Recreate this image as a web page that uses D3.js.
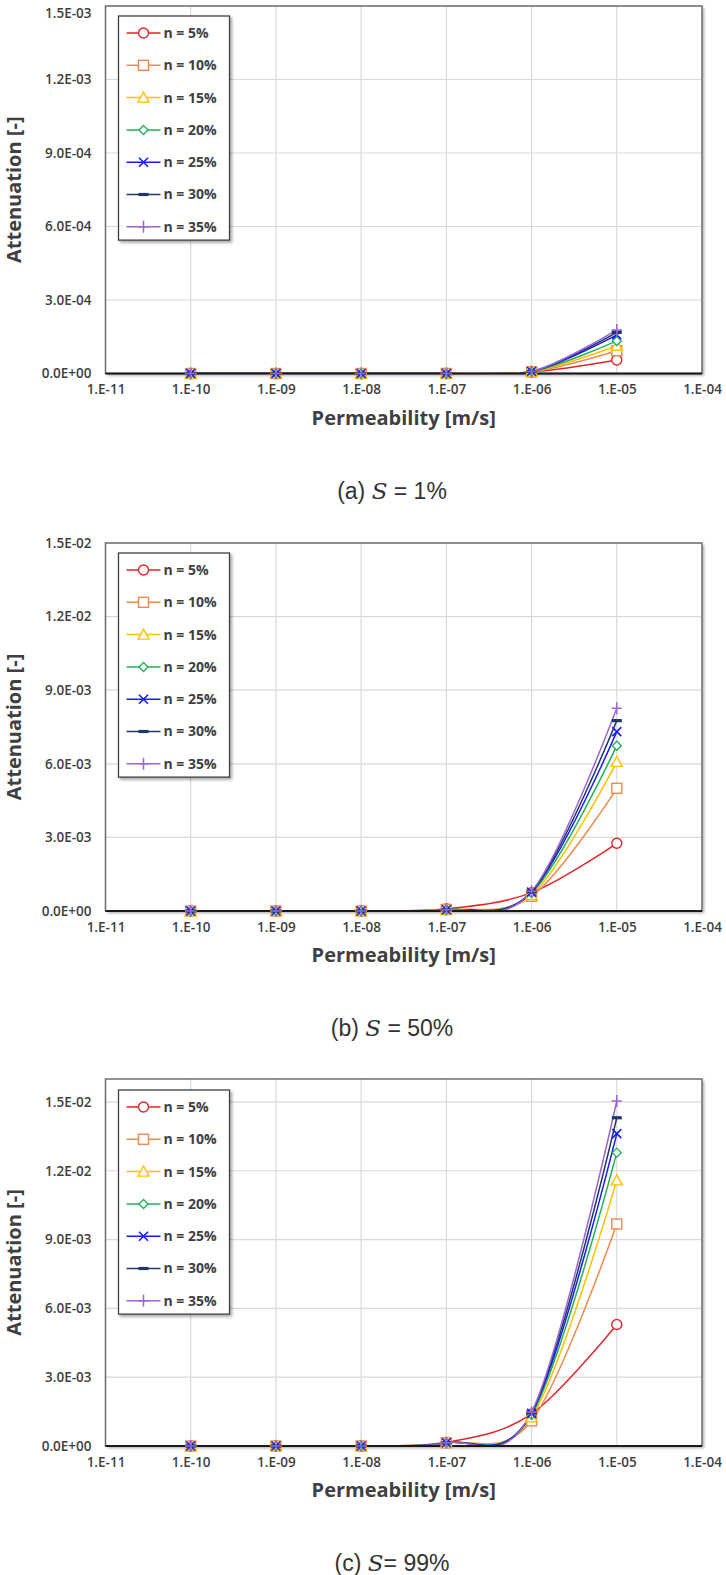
<!DOCTYPE html>
<html><head><meta charset="utf-8">
<script src="https://cdn.jsdelivr.net/npm/d3@7"></script>
<style>
html,body{margin:0;padding:0;background:#fff;}
svg{display:block;}
</style></head>
<body>
<svg id="chart" width="726" height="1575"></svg>
<script>
// ---------- DATA ----------
const permeability = [1e-10, 1e-9, 1e-8, 1e-7, 1e-6, 1e-5];
const seriesNames = ["n = 5%", "n = 10%", "n = 15%", "n = 20%", "n = 25%", "n = 30%", "n = 35%"];
const xTickValues = [1e-11, 1e-10, 1e-9, 1e-8, 1e-7, 1e-6, 1e-5, 1e-4];
const xTickLabels = ["1.E-11", "1.E-10", "1.E-09", "1.E-08", "1.E-07", "1.E-06", "1.E-05", "1.E-04"];

// (a) S = 1%
const attenA_n5  = [0, 0, 0, 2e-7, 6e-6, 5.5e-5];
const attenA_n10 = [0, 0, 0, 2e-7, 7e-6, 9.3e-5];
const attenA_n15 = [0, 0, 0, 2e-7, 7e-6, 1.13e-4];
const attenA_n20 = [0, 0, 0, 2e-7, 8e-6, 1.33e-4];
const attenA_n25 = [0, 0, 0, 2e-7, 8e-6, 1.58e-4];
const attenA_n30 = [0, 0, 0, 2e-7, 8e-6, 1.68e-4];
const attenA_n35 = [0, 0, 0, 2e-7, 8e-6, 1.78e-4];
const yTicksA = [0, 3e-4, 6e-4, 9e-4, 1.2e-3, 1.5e-3];
const yLabelsA = ["0.0E+00", "3.0E-04", "6.0E-04", "9.0E-04", "1.2E-03", "1.5E-03"];

// (b) S = 50%
const attenB_n5  = [0, 0, 1e-6, 9e-5, 7.5e-4, 2.76e-3];
const attenB_n10 = [0, 0, 1e-6, 6e-5, 6.0e-4, 5.0e-3];
const attenB_n15 = [0, 0, 1e-6, 6e-5, 6.5e-4, 6.08e-3];
const attenB_n20 = [0, 0, 1e-6, 5e-5, 7.3e-4, 6.74e-3];
const attenB_n25 = [0, 0, 1e-6, 5e-5, 7.7e-4, 7.31e-3];
const attenB_n30 = [0, 0, 1e-6, 5e-5, 7.9e-4, 7.76e-3];
const attenB_n35 = [0, 0, 1e-6, 5e-5, 8.0e-4, 8.26e-3];
const yTicksB = [0, 3e-3, 6e-3, 9e-3, 1.2e-2, 1.5e-2];
const yLabelsB = ["0.0E+00", "3.0E-03", "6.0E-03", "9.0E-03", "1.2E-02", "1.5E-02"];

// (c) S = 99%
const attenC_n5  = [0, 0, 2e-6, 1.6e-4, 1.40e-3, 5.3e-3];
const attenC_n10 = [0, 0, 2e-6, 1.4e-4, 1.10e-3, 9.68e-3];
const attenC_n15 = [0, 0, 2e-6, 1.4e-4, 1.25e-3, 1.158e-2];
const attenC_n20 = [0, 0, 2e-6, 1.4e-4, 1.35e-3, 1.279e-2];
const attenC_n25 = [0, 0, 2e-6, 1.4e-4, 1.42e-3, 1.362e-2];
const attenC_n30 = [0, 0, 2e-6, 1.4e-4, 1.45e-3, 1.431e-2];
const attenC_n35 = [0, 0, 2e-6, 1.4e-4, 1.47e-3, 1.504e-2];
const yTicksC = [0, 3e-3, 6e-3, 9e-3, 1.2e-2, 1.5e-2];
const yLabelsC = ["0.0E+00", "3.0E-03", "6.0E-03", "9.0E-03", "1.2E-02", "1.5E-02"];

// ---------- STYLE ----------
const colors = ["#e0262b", "#f08a4b", "#ffc000", "#1fb25a", "#1a1aff", "#1f3864", "#9a66d0"];
const markerTypes = ["circle", "square", "triangle", "diamond", "x", "dash", "plus"];
const FONT = "'Open Sans', Lato, 'Liberation Sans', sans-serif";

const svg = d3.select("#chart");
const defs = svg.append("defs");
const sh = defs.append("filter").attr("id", "shadow").attr("x", "-20%").attr("y", "-20%").attr("width", "140%").attr("height", "140%");
sh.append("feDropShadow").attr("dx", 2).attr("dy", 2).attr("stdDeviation", 1.5).attr("flood-color", "#000").attr("flood-opacity", 0.35);

function drawMarker(g, type, color, cx, cy) {
  const m = g.append("g").attr("transform", `translate(${cx},${cy})`);
  const st = {fill: "#fff", stroke: color, "stroke-width": 1.4};
  const apply = sel => { Object.entries(st).forEach(([k, v]) => sel.attr(k, v)); return sel; };
  if (type === "circle") apply(m.append("circle").attr("r", 5));
  else if (type === "square") apply(m.append("rect").attr("x", -5).attr("y", -5).attr("width", 10).attr("height", 10));
  else if (type === "triangle") apply(m.append("path").attr("d", "M0,-5.5L5.5,4.5L-5.5,4.5Z"));
  else if (type === "diamond") apply(m.append("path").attr("d", "M0,-4.5L4.5,0L0,4.5L-4.5,0Z"));
  else if (type === "x") m.append("path").attr("d", "M-4.5,-4.5L4.5,4.5M-4.5,4.5L4.5,-4.5").attr("stroke", color).attr("stroke-width", 1.6).attr("fill", "none");
  else if (type === "dash") m.append("rect").attr("x", -5).attr("y", -1.6).attr("width", 10).attr("height", 3.2).attr("fill", color);
  else if (type === "plus") m.append("path").attr("d", "M-5,0L5,0M0,-6L0,6").attr("stroke", color).attr("stroke-width", 1.5).attr("fill", "none");
}

function drawPanel(cfg) {
  const {top, bottom, left, right, yMax, yTicks, yLabels, series, caption, captionS, legendTop, id} = cfg;
  const x = d3.scaleLog().domain([1e-11, 1e-4]).range([left, right]);
  const y = d3.scaleLinear().domain([0, yMax]).range([bottom, top]);
  const g = svg.append("g");

  // frame shadow
  g.append("rect").attr("x", left).attr("y", top).attr("width", right - left).attr("height", bottom - top)
    .attr("fill", "#fff").attr("filter", "url(#shadow)");

  // gridlines
  g.append("g").selectAll("line").data(xTickValues).join("line")
    .attr("x1", d => x(d)).attr("x2", d => x(d)).attr("y1", top).attr("y2", bottom)
    .attr("stroke", "#d9d9d9").attr("stroke-width", 1.2);
  g.append("g").selectAll("line").data(yTicks).join("line")
    .attr("x1", left).attr("x2", right).attr("y1", d => y(d)).attr("y2", d => y(d))
    .attr("stroke", "#d9d9d9").attr("stroke-width", 1.2);

  // frame
  g.append("rect").attr("x", left).attr("y", top).attr("width", right - left).attr("height", bottom - top)
    .attr("fill", "none").attr("stroke", "#6f6f6f").attr("stroke-width", 1.5);

  // y axis labels
  const yAxis = d3.axisLeft(y).tickValues(yTicks).tickFormat((d, i) => yLabels[i]).tickSize(0).tickPadding(14);
  const ya = g.append("g").attr("transform", `translate(${left},0)`).call(yAxis);
  ya.select(".domain").remove();
  ya.selectAll("text").attr("font-family", FONT).attr("font-size", 13.5).attr("font-weight", 600).attr("fill", "#404040")
    .attr("dy", d => (y(d) < 9 ? "0.85em" : "0.32em"));

  // x axis labels
  const xAxis = d3.axisBottom(x).tickValues(xTickValues).tickFormat((d, i) => xTickLabels[i]).tickSize(0).tickPadding(11);
  const xa = g.append("g").attr("transform", `translate(0,${bottom})`).call(xAxis);
  xa.select(".domain").remove();
  xa.selectAll("text").attr("font-family", FONT).attr("font-size", 13.5).attr("font-weight", 600).attr("fill", "#404040");

  // clip
  defs.append("clipPath").attr("id", "clip" + id).append("rect")
    .attr("x", left).attr("y", top).attr("width", right - left).attr("height", bottom - top);

  const line = d3.line().x((d, i) => x(permeability[i])).y(d => y(d)).curve(d3.curveCatmullRom.alpha(0));
  const sg = g.append("g").attr("clip-path", `url(#clip${id})`);
  series.forEach((vals, si) => {
    sg.append("path").attr("d", line(vals)).attr("fill", "none").attr("stroke", colors[si]).attr("stroke-width", 1.5);
  });
  // x axis line (black)
  g.append("line").attr("x1", left).attr("x2", right).attr("y1", bottom).attr("y2", bottom)
    .attr("stroke", "#1a1a1a").attr("stroke-width", 2);
  series.forEach((vals, si) => {
    vals.forEach((v, i) => drawMarker(g, markerTypes[si], colors[si], x(permeability[i]), y(v)));
  });

  // axis titles
  g.append("text").attr("transform", `translate(21,${(top + bottom) / 2}) rotate(-90)`)
    .attr("text-anchor", "middle").attr("font-family", FONT).attr("font-size", 20).attr("font-weight", "bold")
    .attr("fill", "#404040").text("Attenuation [-]");
  g.append("text").attr("x", (left + right) / 2).attr("y", bottom + 51)
    .attr("text-anchor", "middle").attr("font-family", FONT).attr("font-size", 20).attr("font-weight", "bold")
    .attr("fill", "#404040").text("Permeability [m/s]");

  // legend
  const lg = g.append("g");
  const lx = left + 13, lw = 111, rowH = 32.3;
  const lh = rowH * 7 - 2;
  lg.append("rect").attr("x", lx).attr("y", legendTop).attr("width", lw).attr("height", lh)
    .attr("fill", "#fff").attr("stroke", "#404040").attr("stroke-width", 1.3).attr("filter", "url(#shadow)");
  seriesNames.forEach((name, si) => {
    const cy = legendTop + 17 + si * rowH;
    lg.append("line").attr("x1", lx + 8).attr("x2", lx + 42).attr("y1", cy).attr("y2", cy)
      .attr("stroke", colors[si]).attr("stroke-width", 1.5);
    drawMarker(lg, markerTypes[si], colors[si], lx + 25, cy);
    lg.append("text").attr("x", lx + 45).attr("y", cy).attr("dy", "0.35em")
      .attr("font-family", FONT).attr("font-size", 14).attr("font-weight", "bold").attr("fill", "#404040").text(name);
  });

  // caption
  const cap = svg.append("text").attr("x", 392).attr("y", bottom + 125).attr("text-anchor", "middle")
    .attr("font-family", "'Liberation Sans', Arial, sans-serif").attr("font-size", 23).attr("fill", "#333");
  cap.append("tspan").text(caption + " ");
  cap.append("tspan").attr("font-style", "italic").attr("font-family", "'DejaVu Serif', serif").text("S");
  cap.append("tspan").text(captionS);
}

drawPanel({id: "a", top: 6, bottom: 373.5, left: 105.5, right: 702, yMax: 1.5e-3,
  yTicks: yTicksA, yLabels: yLabelsA,
  series: [attenA_n5, attenA_n10, attenA_n15, attenA_n20, attenA_n25, attenA_n30, attenA_n35],
  caption: "(a)", captionS: " = 1%", legendTop: 16});
drawPanel({id: "b", top: 543, bottom: 911, left: 105.5, right: 702, yMax: 1.5e-2,
  yTicks: yTicksB, yLabels: yLabelsB,
  series: [attenB_n5, attenB_n10, attenB_n15, attenB_n20, attenB_n25, attenB_n30, attenB_n35],
  caption: "(b)", captionS: " = 50%", legendTop: 553});
drawPanel({id: "c", top: 1079, bottom: 1446, left: 105.5, right: 702, yMax: 0.016,
  yTicks: yTicksC, yLabels: yLabelsC,
  series: [attenC_n5, attenC_n10, attenC_n15, attenC_n20, attenC_n25, attenC_n30, attenC_n35],
  caption: "(c)", captionS: "= 99%", legendTop: 1090});
</script>
</body></html>
